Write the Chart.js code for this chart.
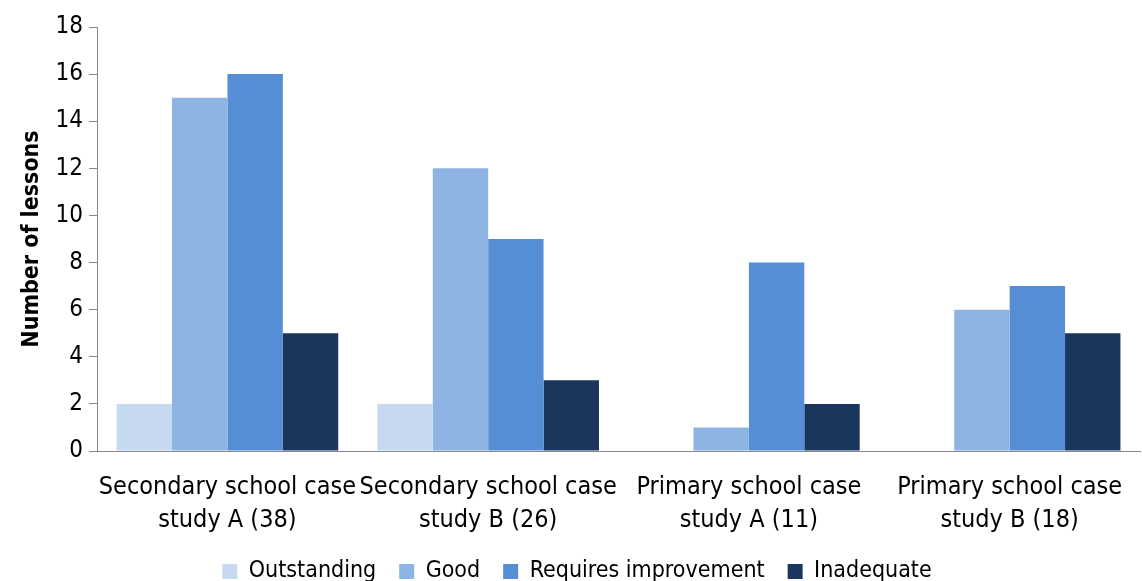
<!DOCTYPE html>
<html>
<head>
<meta charset="utf-8">
<script src="https://cdn.jsdelivr.net/npm/chart.js@4/dist/chart.umd.min.js"></script>
<style>
  html, body { margin: 0; padding: 0; background: #fff; }
  #wrap { width: 1142px; height: 581px; position: relative; }
</style>
</head>
<body>
<div id="wrap"><canvas id="grafico"></canvas></div>
<script>
// Dados do gráfico
const categorias = [
    ['Secondary school case', 'study A (38)'],
    ['Secondary school case', 'study B (26)'],
    ['Primary school case', 'study A (11)'],
    ['Primary school case', 'study B (18)']
];
const outstanding = [2, 2, 0, 0];
const good = [15, 12, 1, 6];
const requiresImprovement = [16, 9, 8, 7];
const inadequate = [5, 3, 2, 5];

const fonte = "'DejaVu Sans Condensed', 'DejaVu Sans', sans-serif";

const ctx = document.getElementById('grafico');
new Chart(ctx, {
    type: 'bar',
    data: {
        labels: categorias,
        datasets: [
            { label: 'Outstanding', data: outstanding, backgroundColor: '#c6d9f1' },
            { label: 'Good', data: good, backgroundColor: '#8eb4e3' },
            { label: 'Requires improvement', data: requiresImprovement, backgroundColor: '#558ed5' },
            { label: 'Inadequate', data: inadequate, backgroundColor: '#1b365d' }
        ]
    },
    options: {
        responsive: true,
        maintainAspectRatio: false,
        animation: false,
        layout: { padding: { top: 27, right: 2, left: 14, bottom: 0 } },
        datasets: {
            bar: { categoryPercentage: 0.85, barPercentage: 1.0 }
        },
        plugins: {
            legend: {
                position: 'bottom',
                maxHeight: 44,
                labels: {
                    font: { family: fonte, size: 23 },
                    color: '#000',
                    boxWidth: 15,
                    boxHeight: 15,
                    padding: 23
                }
            },
            tooltip: { enabled: false }
        },
        scales: {
            x: {
                grid: { display: false },
                border: { display: true, color: '#888', width: 1 },
                ticks: {
                    font: { family: fonte, size: 25, lineHeight: 1.32 },
                    color: '#000',
                    maxRotation: 0,
                    autoSkip: false,
                    padding: 12
                },
                // rótulos em duas linhas: altura fixa da área do eixo
                afterFit: (scale) => { scale.height = 86; }
            },
            y: {
                min: 0,
                max: 18,
                grid: { drawOnChartArea: false, drawTicks: true, tickLength: 8, color: '#888' },
                border: { display: true, color: '#888', width: 1 },
                ticks: {
                    stepSize: 2,
                    font: { family: fonte, size: 24 },
                    color: '#000',
                    padding: 6
                },
                title: {
                    display: true,
                    text: 'Number of lessons',
                    font: { family: fonte, size: 23, weight: 'bold' },
                    color: '#000',
                    padding: { bottom: 4 }
                }
            }
        }
    }
});
</script>
</body>
</html>
